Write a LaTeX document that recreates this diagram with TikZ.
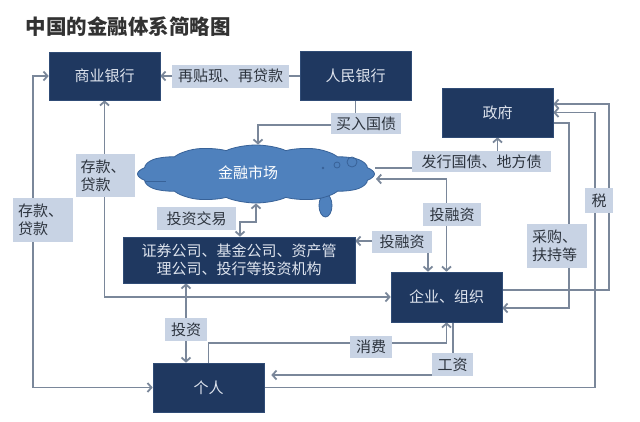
\documentclass[tikz,border=0pt]{standalone}
\usepackage{fontspec}
\setmainfont{Noto Sans CJK SC}
\usetikzlibrary{arrows.meta,shapes.symbols,calc}
\pgfdeclarelayer{back}
\pgfdeclarelayer{bg}
\pgfsetlayers{back,bg,main}
\definecolor{navy}{RGB}{31,56,96}
\definecolor{navyedge}{RGB}{48,76,118}
\definecolor{boxtext}{RGB}{222,228,238}
\definecolor{lblfill}{RGB}{200,211,228}
\definecolor{lbltext}{RGB}{45,52,62}
\definecolor{wire}{RGB}{122,135,154}
\definecolor{cloudfill}{RGB}{79,129,189}
\definecolor{cloudedge}{RGB}{56,98,152}
\definecolor{titlec}{RGB}{50,50,50}
\tikzset{
  bx/.style={draw=navyedge, line width=0.6pt, fill=navy, text=boxtext,
    font=\fontsize{15}{18}\selectfont, inner sep=0pt, align=center},
  lbl/.style={fill=lblfill, text=lbltext, font=\fontsize{15}{18}\selectfont,
    inner sep=0pt, align=left},
  wireline/.style={draw=wire, line width=1.8pt},
  >={Straight Barb[length=4pt,width=9pt]}
}
\begin{document}
\begin{tikzpicture}[x=1pt,y=-1pt]
\useasboundingbox (0,0) rectangle (640,421);
\begin{pgfonlayer}{back}
\fill[white] (0,0) rectangle (640,421);
\end{pgfonlayer}

\node[anchor=west, font=\fontsize{20.5}{24}\selectfont\bfseries, text=titlec, inner sep=0pt] (title) at (25.5,26.5) {中国的金融体系简略图};

% boxes
\node[bx, minimum width=111pt, minimum height=48pt] (syyh) at (104.5,76) {商业银行};
\node[bx, minimum width=111pt, minimum height=49pt] (rmyh) at (355.5,76) {人民银行};
\node[bx, minimum width=111pt, minimum height=49pt] (zf) at (497.5,112.5) {政府};
\node[bx, minimum width=232pt, minimum height=46pt] (zq) at (239,260) {证券公司、基金公司、资产管\\理公司、投行等投资机构};
\node[bx, minimum width=111pt, minimum height=50pt] (qy) at (446.5,297) {企业、组织};
\node[bx, minimum width=111pt, minimum height=49pt] (gr) at (208.5,387.5) {个人};

% cloud
\fill[cloudfill, draw=cloudedge, line width=0.8pt] (325.5,205.5) ellipse (6.5 and 11.5);
\node[cloud, cloud puffs=12, cloud puff arc=100, aspect=1.7, fill=cloudfill, draw=cloudedge,
  line width=0.8pt, minimum width=96pt, minimum height=58pt, xscale=2.47, transform shape] (cloud) at (256,174) {};
\node[text=white, font=\fontsize{15}{18}\selectfont, inner sep=0pt] (cloudtxt) at (248,173) {金融市场};
\draw[cloudedge, line width=0.8pt] (337,165) circle (3);
\draw[cloudedge, line width=0.8pt] (352,162) circle (5);
\fill[cloudedge] (323,168) circle (1.3);
\draw[cloudedge, line width=0.8pt] (145,181) -- (166,181);

% labels
\node[lbl, minimum width=117pt, minimum height=23pt, align=center] (L1) at (230.5,76) {再贴现、再贷款};
\node[lbl, minimum width=70pt, minimum height=21pt, align=center] (L2) at (366,123.5) {买入国债};
\node[lbl, minimum width=139pt, minimum height=21pt, align=center] (L3) at (481.5,161.5) {发行国债、地方债};
\node[lbl, minimum width=58pt, minimum height=23pt, align=center] (L4) at (452,214.5) {投融资};
\node[lbl, minimum width=60pt, minimum height=22pt, align=center] (L5) at (402,242) {投融资};
\node[lbl, minimum width=79pt, minimum height=23pt, align=center] (L6) at (196.5,218.5) {投资交易};
\node[lbl, minimum width=59pt, minimum height=43pt, text width=50pt] (L7) at (105.5,175.5) {存款、\\贷款};
\node[lbl, minimum width=60pt, minimum height=44pt, text width=50pt] (L8) at (43,220) {存款、\\贷款};
\node[lbl, minimum width=42pt, minimum height=23pt, align=center] (L9) at (186,329.5) {投资};
\node[lbl, minimum width=42pt, minimum height=22pt, align=center] (L10) at (371,347) {消费};
\node[lbl, minimum width=41pt, minimum height=23pt, align=center] (L11) at (452.5,364.5) {工资};
\node[lbl, minimum width=28pt, minimum height=25pt, align=center] (L12) at (599,200.5) {税};
\node[lbl, minimum width=60pt, minimum height=44pt, text width=50pt] (L13) at (557,246) {采购、\\扶持等};

% bend points
\coordinate (c2) at (258,125);
\coordinate (k3) at (375,168);
\coordinate (k4) at (376,179);
\coordinate (c5) at (428,241);
\coordinate (c6) at (240,222);
\coordinate (c9) at (33,76);
\coordinate (c10) at (446.5,343);
\coordinate (c11) at (453,375);
\coordinate (c12) at (595,112.5);
\coordinate (c13a) at (609,290);
\coordinate (c13) at (609,104);
\coordinate (c14) at (569,123);
\coordinate (c14b) at (569,308);

\begin{pgfonlayer}{bg}
\draw[wireline,->] (rmyh.west) -- (syyh.east);
\draw[wireline,->] (rmyh.south) |- (c2) -- (c2 |- cloud.north);
\draw[wireline,->] (k3) -| (zf.south);
\draw[wireline,<->] (k4) -| (qy.north);
\draw[wireline,<->] (zq.east |- c5) -| (c5 |- qy.north);
\draw[wireline,<->] (cloud.south) |- (c6) -- (c6 |- zq.north);
\draw[wireline,<->] (zq.south -| L9) -- (gr.north -| L9);
\draw[wireline,<->] (syyh.south) |- (qy.west);
\draw[wireline,<->] (syyh.west) -- (c9) |- (gr.west);
\draw[wireline,->] (gr.north) |- (c10) -- (qy.south);
\draw[wireline,->,shorten >=7pt] (qy.south -| c11) -- (c11) -- (c11 -| gr.east);
\draw[wireline,->] (gr.east) -| (c12) -- (zf.east);
\draw[wireline,->] (c13a -| qy.east) -| (c13) -- (c13 -| zf.east);
\draw[wireline,->] (c14 -| zf.east) -- (c14) -- (c14b) -- (c14b -| qy.east);
\end{pgfonlayer}
\end{tikzpicture}
\end{document}
